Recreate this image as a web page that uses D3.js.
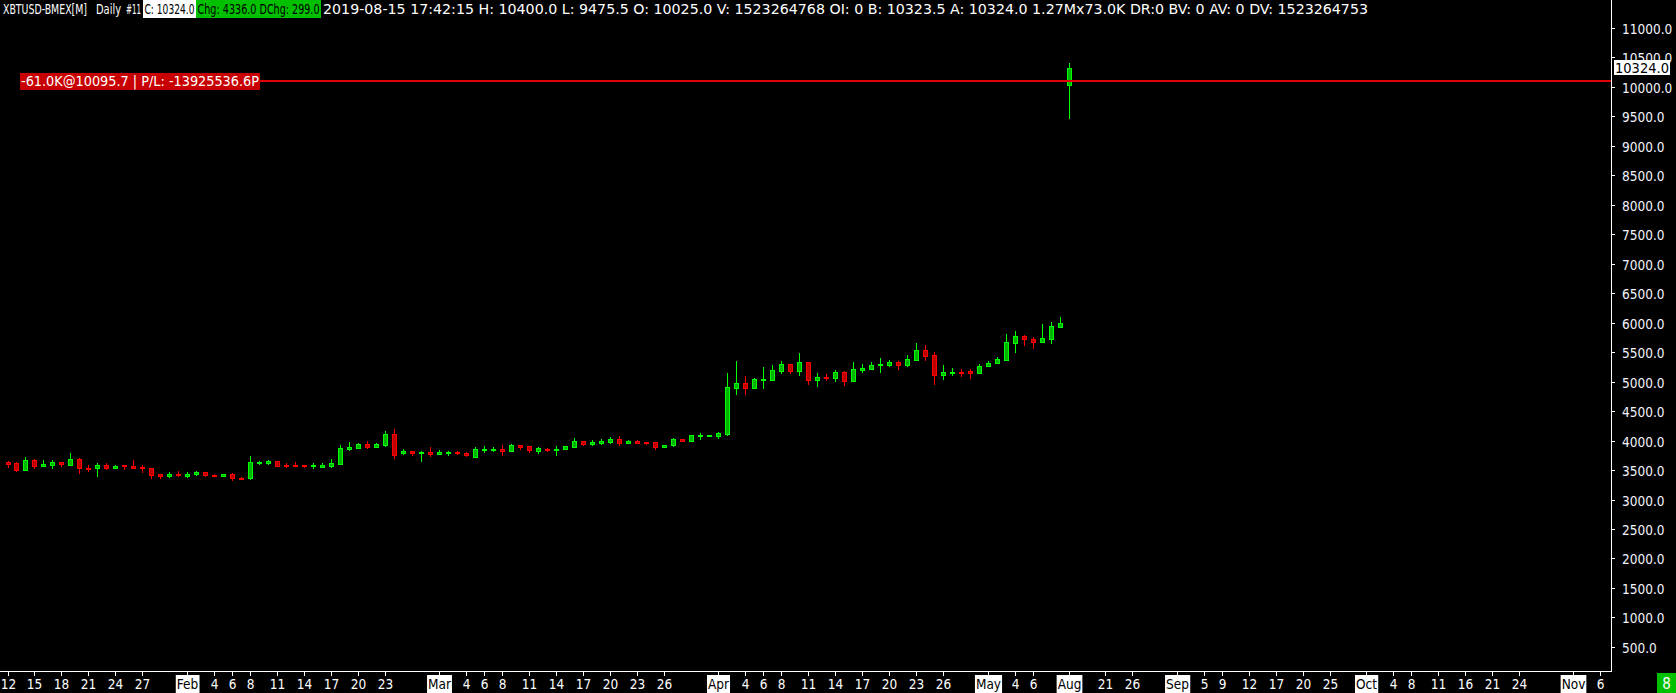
<!DOCTYPE html>
<html><head><meta charset="utf-8">
<script src="https://cdn.jsdelivr.net/npm/d3@7"></script>
<style>
html,body{margin:0;padding:0;background:#000;overflow:hidden}
svg{display:block}
text{font-family:"DejaVu Sans Condensed","DejaVu Sans",sans-serif;font-stretch:condensed}
</style></head>
<body>
<script>
// ---- DATA ----
const openV = [3637,3620,3506,3671,3574,3591,3631,3591,3687,3541,3529,3586,3541,3580,3569,3557,3529,3427,3393,3433,
3405,3427,3467,3416,3405,3433,3371,3360,3625,3620,3648,3586,3586,3586,3574,3557,3574,3603,3863,3880,
3942,3897,3931,4112,3790,3823,3801,3806,3778,3795,3812,3795,3730,3851,3851,3863,3829,3925,3908,3829,
3857,3846,3851,3897,3987,3942,3959,3982,4027,3965,3993,3976,3970,3897,3919,4027,3998,4078,4083,4078,
4110,4898,4971,4898,5033,5033,5186,5294,5186,5328,5033,5084,5067,5164,5016,5203,5220,5277,5288,5333,
5288,5373,5537,5452,5118,5152,5169,5175,5141,5260,5311,5373,5661,5774,5723,5678,5729,5933,10025];
const highV = [3659,3631,3721,3682,3671,3665,3636,3789,3704,3586,3620,3620,3586,3586,3671,3580,3541,3433,3467,3484,
3467,3484,3473,3433,3433,3450,3388,3738,3659,3671,3648,3620,3637,3586,3620,3614,3687,3925,3976,3959,
3987,3959,4163,4197,3851,3823,3823,3891,3840,3823,3829,3806,3897,3914,3897,3925,3948,3931,3914,3885,
3874,3908,3914,4044,3993,4010,4021,4061,4078,4010,4004,3976,3982,3925,4038,4027,4095,4129,4095,4146,
5147,5350,5096,5067,5248,5277,5350,5299,5486,5339,5141,5130,5198,5186,5339,5294,5328,5401,5362,5350,
5452,5656,5622,5509,5282,5231,5214,5209,5294,5345,5418,5814,5859,5791,5757,5978,6012,6097,10400];
const lowV = [3557,3490,3501,3541,3569,3535,3574,3586,3456,3490,3405,3518,3541,3512,3541,3473,3365,3360,3388,3405,
3382,3422,3393,3399,3405,3337,3354,3354,3603,3603,3574,3546,3574,3546,3535,3557,3552,3603,3846,3880,
3880,3897,3914,3700,3770,3755,3660,3740,3778,3755,3767,3745,3720,3812,3823,3755,3829,3863,3812,3795,
3829,3755,3851,3891,3925,3931,3942,3965,3931,3965,3965,3942,3863,3897,3914,3998,3998,4032,4083,4044,
4100,4796,4796,4898,4898,5033,5152,5152,5118,4966,4932,5028,5016,4949,5016,5169,5220,5169,5271,5214,
5265,5373,5367,4966,5045,5113,5096,5062,5141,5260,5311,5373,5503,5627,5576,5678,5661,5933,9475.5];
const closeV = [3608,3501,3671,3569,3603,3631,3597,3687,3529,3535,3586,3541,3569,3574,3541,3529,3422,3393,3433,3410,
3433,3467,3410,3405,3433,3360,3360,3637,3637,3654,3574,3574,3574,3563,3586,3586,3620,3874,3891,3942,
3897,3942,4112,3760,3818,3795,3812,3778,3812,3812,3784,3755,3857,3863,3863,3829,3925,3897,3834,3868,
3840,3857,3902,3993,3948,3982,3998,4027,3965,3993,3965,3965,3897,3925,4021,3998,4089,4089,4095,4123,
4903,4971,4898,5039,5045,5192,5294,5186,5328,5033,5073,5073,5158,5016,5209,5231,5282,5299,5333,5288,
5384,5531,5441,5118,5164,5164,5152,5141,5265,5316,5384,5673,5774,5718,5678,5735,5944,5989,10324];

const yTicks = [500,1000,1500,2000,2500,3000,3500,4000,4500,5000,5500,6000,6500,7000,7500,8000,8500,9000,9500,10000,10500,11000];
const xTickIdx  = [0,3,6,9,12,15,20,23,25,27,30,33,36,39,42,48,51,53,55,58,61,64,67,70,73,79,82,84,86,89,92,95,98,101,104,109,112,114,118,122,125,130,133,135,138,141,144,147,151,154,156,159,162,165,168,174,177];
const xTickText = ["12","15","18","21","24","27","Feb","4","6","8","11","14","17","20","23","Mar","4","6","8","11","14","17","20","23","26","Apr","4","6","8","11","14","17","20","23","26","May","4","6","Aug","21","26","Sep","5","9","12","17","20","25","Oct","4","8","11","16","21","24","Nov","6"];
const monthLabels = ["Feb","Mar","Apr","May","Aug","Sep","Oct","Nov"];

const positionPrice = 10095.7;
const positionLabel = "-61.0K@10095.7 | P/L: -13925536.6P";
const lastPrice = 10324.0;
const headerMain = "2019-08-15 17:42:15 H: 10400.0 L: 9475.5 O: 10025.0 V: 1523264768 OI: 0 B: 10323.5 A: 10324.0 1.27Mx73.0K DR:0 BV: 0 AV: 0 DV: 1523264753";

// ---- CHART ----
const W = 1676, H = 693;
const axisX = 1611, axisY = 671;
const svg = d3.select("body").append("svg").attr("width", W).attr("height", H);
svg.append("rect").attr("width", W).attr("height", H).attr("fill", "#000");

const x = d3.scaleLinear().domain([0, 178.17]).range([7.5, axisX]);
const y = d3.scaleLinear().domain([91, 11475]).range([axisY, 0]);

const FS = 13.5;

// Header
const hdr = svg.append("g").style("font-size", "14px");
const fitText = (g, x0, len, fill, t) => g.append("text").attr("x", x0).attr("y", 14).attr("fill", fill)
   .attr("textLength", len).attr("lengthAdjust", "spacingAndGlyphs").text(t);
fitText(hdr, 3, 84, "#fff", "XBTUSD-BMEX[M]");
fitText(hdr, 96, 25, "#fff", "Daily");
fitText(hdr, 126, 15, "#fff", "#11");
const boxes = [
  {x0:143, x1:196, bg:"#ffffff", t:"C: 10324.0"},
  {x0:196, x1:258, bg:"#00c000", t:"Chg: 4336.0"},
  {x0:258, x1:321, bg:"#00c000", t:"DChg: 299.0"}
];
boxes.forEach(b => {
  hdr.append("rect").attr("x", b.x0).attr("y", 0).attr("width", b.x1 - b.x0).attr("height", 18).attr("fill", b.bg);
  fitText(hdr, b.x0 + 1.5, b.x1 - b.x0 - 3, "#000", b.t);
});
fitText(hdr, 323, 1045, "#fff", headerMain);

// Y axis
svg.append("line").attr("x1", axisX + 0.5).attr("x2", axisX + 0.5).attr("y1", 0).attr("y2", axisY + 1)
   .attr("stroke", "#fff").attr("stroke-width", 1);
const yg = svg.append("g").style("font-size", FS + "px");
yTicks.forEach(v => {
  const yy = Math.round(y(v)) + 0.5;
  yg.append("line").attr("x1", axisX).attr("x2", axisX + 4).attr("y1", yy).attr("y2", yy).attr("stroke", "#fff");
  yg.append("text").attr("x", axisX + 11).attr("y", yy + 5).attr("fill", "#f4f4ff").text(v.toFixed(1));
});

// X axis
svg.append("line").attr("x1", 0).attr("x2", axisX + 1).attr("y1", axisY + 0.5).attr("y2", axisY + 0.5)
   .attr("stroke", "#fff");
const xg = svg.append("g").style("font-size", FS + "px");
xTickIdx.forEach((d, k) => {
  const xx = Math.round(x(d)) + 0.5;
  xg.append("line").attr("x1", xx).attr("x2", xx).attr("y1", axisY).attr("y2", axisY + 5).attr("stroke", "#fff");
  const t = xTickText[k];
  const isMonth = monthLabels.includes(t);
  const txt = xg.append("text").attr("x", xx).attr("y", 689).attr("text-anchor", "middle")
     .attr("fill", isMonth ? "#000" : "#fff").text(t);
  if (isMonth) {
    const bb = txt.node().getBBox();
    xg.insert("rect", () => txt.node()).attr("x", bb.x - 1).attr("y", 675).attr("width", bb.width + 2).attr("height", 18).attr("fill", "#fff");
  }
});

// Candles
const cg = svg.append("g").attr("shape-rendering", "crispEdges");
openV.forEach((o, i) => {
  const c = closeV[i], hi = highV[i], lo = lowV[i];
  const up = c >= o;
  const stroke = up ? "#00ff00" : "#ff0000";
  const fill = up ? "#00b400" : "#c00000";
  const cx = Math.round(x(i));
  cg.append("line").attr("x1", cx + 0.5).attr("x2", cx + 0.5)
    .attr("y1", Math.round(y(hi))).attr("y2", Math.round(y(lo)) + 1).attr("stroke", stroke);
  const yTop = Math.round(y(Math.max(o, c))), yBot = Math.round(y(Math.min(o, c)));
  if (yBot - yTop < 2) {
    cg.append("rect").attr("x", cx - 2).attr("y", yTop).attr("width", 5).attr("height", Math.max(2, yBot - yTop + 1)).attr("fill", stroke);
  } else {
    cg.append("rect").attr("x", cx - 2 + 0.5).attr("y", yTop + 0.5).attr("width", 4).attr("height", yBot - yTop)
      .attr("fill", fill).attr("stroke", stroke);
  }
});

// Position line + label
const py = Math.round(y(positionPrice));
svg.append("line").attr("x1", 20).attr("x2", axisX).attr("y1", py).attr("y2", py)
   .attr("stroke", "#e00000").attr("stroke-width", 2);
const pl = svg.append("g").style("font-size", "14px");
pl.append("rect").attr("x", 20).attr("y", py - 8).attr("width", 240).attr("height", 17).attr("fill", "#c80000");
pl.append("text").attr("x", 21).attr("y", py + 5).attr("fill", "#fff")
  .attr("textLength", 238).attr("lengthAdjust", "spacingAndGlyphs").text(positionLabel);

// Last price box
const ly = y(lastPrice);
svg.append("rect").attr("x", 1614).attr("y", Math.round(ly) - 8).attr("width", 56).attr("height", 15).attr("fill", "#fff");
svg.append("text").attr("x", 1615).attr("y", Math.round(ly) + 4.5).attr("fill", "#000").style("font-size", FS + "px")
   .attr("textLength", 54).attr("lengthAdjust", "spacingAndGlyphs").text(lastPrice.toFixed(1));

// Bottom-right counter
svg.append("rect").attr("x", 1657).attr("y", 673).attr("width", 19).attr("height", 20).attr("fill", "#00c000");
svg.append("text").attr("x", 1666.5).attr("y", 689).attr("text-anchor", "middle").attr("fill", "#fff")
   .style("font-size", "15px").text("8");
</script>
</body></html>
